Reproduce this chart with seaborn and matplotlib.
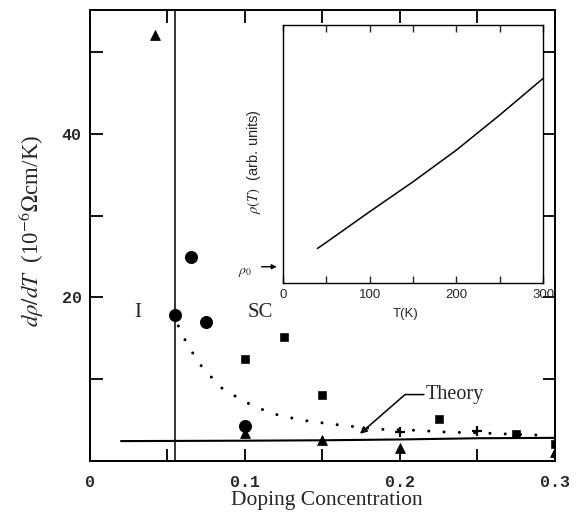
import matplotlib
matplotlib.use("Agg")
import matplotlib.pyplot as plt
import seaborn as sns
import pandas as pd

# ---- data ----
circ_x = [0.055, 0.065, 0.075, 0.100]
circ_y = [17.8, 25.0, 17.0, 4.2]
sq_x = [0.100, 0.125, 0.150, 0.225, 0.275, 0.300]
sq_y = [12.5, 15.1, 8.1, 5.1, 3.3, 2.0]
tri_x = [0.042, 0.100, 0.150, 0.200, 0.300]
tri_y = [52.1, 3.4, 2.5, 1.5, 1.1]
plus_x = [0.200, 0.250]
plus_y = [3.5, 3.6]
theory_x = [0.02, 0.10, 0.15, 0.20, 0.25, 0.30]
theory_y = [2.4, 2.45, 2.5, 2.6, 2.75, 2.8]
dot_x = [0.057, 0.060, 0.064, 0.068, 0.073, 0.079, 0.085, 0.092, 0.099, 0.107,
         0.114, 0.122, 0.129, 0.137, 0.145, 0.153, 0.166, 0.187, 0.209, 0.230,
         0.252, 0.273, 0.295]
dot_y = [16.5, 15.2, 14.0, 12.6, 11.3, 10.1, 8.9, 8.1, 7.3, 6.6,
         6.05, 5.56, 5.28, 4.95, 4.76, 4.55, 4.27, 3.85, 3.73, 3.5,
         3.4, 3.24, 3.1]
phase_boundary = 0.055
xtick_vals = [0, 0.05, 0.1, 0.15, 0.2, 0.25, 0.3]
xtick_labels = ["0", "", "0.1", "", "0.2", "", "0.3"]
ytick_vals = [10, 20, 30, 40, 50]
ytick_labels = ["", "20", "", "40", ""]

# inset: rho(T)
inset_T = [40, 50, 100, 150, 200, 250, 300]
inset_rho = [0.135, 0.158, 0.277, 0.393, 0.516, 0.652, 0.794]
rho0 = 0.064
inset_xticks = [0, 100, 200, 300]
inset_minor = [50, 150, 250]

sns.set_style("ticks")
plt.rcParams["mathtext.fontset"] = "stix"
serif = ["Liberation Serif", "DejaVu Serif"]
mono = ["Liberation Mono", "DejaVu Sans Mono"]
sans = ["Liberation Sans", "DejaVu Sans"]

fig = plt.figure(figsize=(5.81, 5.12), dpi=100)
ax = fig.add_axes([0.1549, 0.1002, 0.8003, 0.8803])

# markers
sns.scatterplot(x=circ_x, y=circ_y, marker="o", s=75, color="black", edgecolor="black", ax=ax, zorder=4)
sns.scatterplot(x=sq_x, y=sq_y, marker="s", s=32, color="black", edgecolor="black", ax=ax, zorder=4)
sns.scatterplot(x=tri_x, y=tri_y, marker="^", s=50, color="black", edgecolor="black", ax=ax, zorder=4)
sns.scatterplot(x=plus_x, y=plus_y, marker="+", s=60, color="black", linewidth=1.6, ax=ax, zorder=4)

# lines
sns.lineplot(x=theory_x, y=theory_y, color="black", lw=1.5, ax=ax, sort=False, estimator=None)
sns.lineplot(x=dot_x, y=dot_y, color="black", lw=2.2, ax=ax, sort=False, estimator=None,
             linestyle=(0, (0.01, 5.0)))
ax.lines[-1].set_dash_capstyle("round")
ax.axvline(phase_boundary, color="black", lw=1.1)

ax.set_xlim(0, 0.3)
ax.set_ylim(0, 55.2)
ax.set_xticks(xtick_vals)
ax.set_xticklabels(xtick_labels, fontfamily=mono, fontweight="bold", fontsize=12)
ax.set_yticks(ytick_vals)
ax.set_yticklabels(ytick_labels, fontfamily=mono, fontweight="bold", fontsize=12)
ax.tick_params(axis="both", direction="in", length=9, width=1.3,
               top=True, right=True, color="black")
ax.tick_params(axis="x", pad=10)
ax.tick_params(axis="y", pad=6)
for s in ax.spines.values():
    s.set_visible(True)
    s.set_linewidth(1.4)
    s.set_color("black")

ax.set_xlabel("Doping Concentration", fontfamily=serif, fontsize=15.5)
ax.xaxis.set_label_coords(0.51, -0.067)
ax.set_ylabel(r"$d\rho/dT$  (10$^{-6}$$\Omega$cm/K)", fontfamily=serif, fontsize=16.5)
ax.yaxis.set_label_coords(-0.095, 0.51)

ax.text(0.031, 18.2, "I", fontfamily=serif, fontsize=15, ha="center", va="center")
ax.text(0.110, 18.2, "SC", fontfamily=serif, fontsize=15, ha="center", va="center")
ax.text(0.2165, 8.1, "Theory", fontfamily=serif, fontsize=14.5, ha="left", va="center")
ax.annotate("", xy=(0.1742, 3.3), xytext=(0.2155, 8.1),
            arrowprops=dict(arrowstyle="-|>", color="black", lw=1.1,
                            connectionstyle="angle,angleA=180,angleB=41,rad=0",
                            shrinkA=0, shrinkB=0, mutation_scale=10))

# inset
ins = fig.add_axes([0.4866, 0.4467, 0.4486, 0.5045])
sns.lineplot(x=inset_T, y=inset_rho, color="black", lw=1.1, ax=ins, sort=False, estimator=None)
ins.set_xlim(0, 300)
ins.set_ylim(0, 1)
ins.set_xticks(inset_xticks)
ins.set_xticks(inset_minor, minor=True)
ins.set_xticklabels([str(v) for v in inset_xticks], fontfamily=sans, fontsize=9.5)
ins.set_yticks([])
ins.tick_params(axis="x", which="both", direction="in", length=5, width=1.0, top=True, pad=4)
for s in ins.spines.values():
    s.set_visible(True)
    s.set_linewidth(1.0)
    s.set_color("black")
ins.set_xlabel("T(K)", fontfamily=sans, fontsize=9.5)
ins.xaxis.set_label_coords(0.47, -0.095)
ins.set_ylabel(r"$\rho(T)$  (arb. units)", fontfamily=sans, fontsize=10.5)
ins.yaxis.set_label_coords(-0.075, 0.47)
ins.annotate("", xy=(-0.023, rho0), xytext=(-0.081, rho0), xycoords="axes fraction",
             arrowprops=dict(arrowstyle="-|>", color="black", lw=1.0, shrinkA=0, shrinkB=0,
                             mutation_scale=7), annotation_clip=False)
ins.text(-0.143, 0.045, r"$\rho_0$", transform=ins.transAxes, fontsize=10,
         ha="center", va="center")

fig.savefig("out.png", dpi=100)
